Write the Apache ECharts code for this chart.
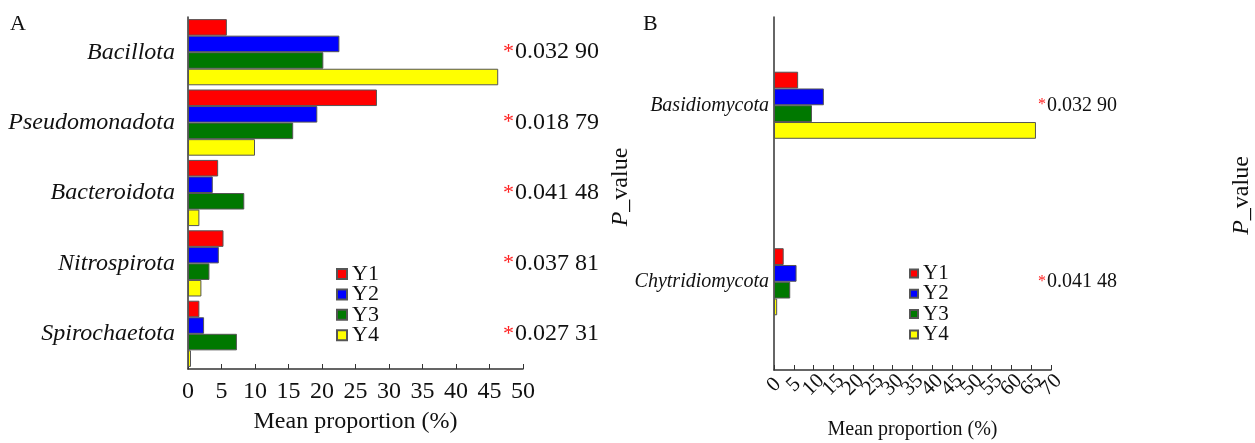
<!DOCTYPE html>
<html>
<head>
<meta charset="utf-8">
<script src="https://cdn.jsdelivr.net/npm/echarts@6/dist/echarts.min.js"></script>
<style>
html,body{margin:0;padding:0;background:#fff}
#chart{width:1255px;height:443px}
</style>
</head>
<body>
<div id="chart"></div>
<script>
// Panel A: bacterial phyla, mean proportion (%) per group
const bacteriaPhyla = ['Bacillota', 'Pseudomonadota', 'Bacteroidota', 'Nitrospirota', 'Spirochaetota'];
const bacteriaY1 = [5.8, 28.2, 4.5, 5.3, 1.7];
const bacteriaY2 = [22.6, 19.3, 3.7, 4.6, 2.4];
const bacteriaY3 = [20.2, 15.7, 8.4, 3.2, 7.3];
const bacteriaY4 = [46.3, 10.0, 1.7, 2.0, 0.45];
const bacteriaP = ['0.032 90', '0.018 79', '0.041 48', '0.037 81', '0.027 31'];

// Panel B: fungal phyla
const fungiPhyla = ['Basidiomycota', 'Chytridiomycota'];
const fungiY1 = [6.1, 2.45];
const fungiY2 = [12.6, 5.7];
const fungiY3 = [9.6, 4.1];
const fungiY4 = [66.2, 0.8];
const fungiP = ['0.032 90', '0.041 48'];
// tick labels of panel B's slanted proportion axis (0–70 by 5)
const fungiTicks = ['0', '5', '10', '15', '20', '25', '30', '35', '40', '45', '50', '55', '60', '65', '70'];

const groups = ['Y1', 'Y2', 'Y3', 'Y4'];
const groupColors = ['#ff0000', '#0000ff', '#007800', '#ffff00'];

const SERIF = '"Liberation Serif", "Times New Roman", serif';
const AXIS_COLOR = '#333';

function makeSeries(values, xi, yi, catGap) {
  return values.map((vals, i) => ({
    name: groups[i],
    type: 'bar',
    xAxisIndex: xi,
    yAxisIndex: yi,
    data: vals,
    barGap: '0%',
    barCategoryGap: catGap,
    itemStyle: { color: groupColors[i], borderColor: '#555', borderWidth: 1 },
    emphasis: { disabled: true }
  }));
}

// right-hand category axis carrying the significance labels and the "P_value" title
function pAxis(gridIndex, cats, offset, nameGap, fontSize, starSize, namePad) {
  return {
    type: 'category',
    gridIndex: gridIndex,
    position: 'right',
    inverse: true,
    offset: offset,
    data: cats,
    axisLine: { show: false },
    axisTick: { show: false },
    splitLine: { show: false },
    axisLabel: {
      margin: 0,
      formatter: v => '{s|*}{v|' + v + '}',
      rich: {
        s: { color: '#ff2020', fontFamily: SERIF, fontSize: starSize, padding: [0, 1, 0, 0] },
        v: { color: '#111', fontFamily: SERIF, fontSize: fontSize }
      }
    },
    name: '{i|P}_value',
    nameLocation: 'middle',
    nameRotate: 90,
    nameGap: nameGap,
    nameTextStyle: {
      color: '#111', fontFamily: SERIF, fontSize: 24, padding: namePad,
      rich: { i: { fontStyle: 'italic', fontFamily: SERIF, fontSize: 24, color: '#111' } }
    }
  };
}

const chart = echarts.init(document.getElementById('chart'), null, { renderer: 'canvas' });

chart.setOption({
  backgroundColor: '#fff',
  animation: false,
  title: [
    { text: 'A', left: 5, top: 8, textStyle: { fontFamily: SERIF, fontSize: 22, fontWeight: 'normal', color: '#111' } },
    { text: 'B', left: 638, top: 8, textStyle: { fontFamily: SERIF, fontSize: 22, fontWeight: 'normal', color: '#111' } }
  ],
  grid: [
    { left: 188, top: 17, width: 335, height: 352, containLabel: false, outerBoundsMode: 'none' },
    { left: 774, top: 17, width: 277, height: 353, containLabel: false, outerBoundsMode: 'none' }
  ],
  legend: [
    {
      data: groups, orient: 'vertical', left: 331, top: 258,
      itemWidth: 10, itemHeight: 10, itemGap: -1.6, icon: 'rect',
      textStyle: { fontFamily: SERIF, fontSize: 22, color: '#111', lineHeight: 20 },
      selectedMode: false
    },
    {
      data: groups, orient: 'vertical', left: 904, top: 258,
      itemWidth: 8, itemHeight: 8, itemGap: -0.7, icon: 'rect',
      textStyle: { fontFamily: SERIF, fontSize: 21, color: '#111', lineHeight: 20 },
      selectedMode: false
    }
  ],
  xAxis: [
    {
      type: 'value', gridIndex: 0, min: 0, max: 50, interval: 5,
      axisLine: { show: true, lineStyle: { color: AXIS_COLOR, width: 1.5 } },
      axisTick: { show: true, inside: true, length: 5, lineStyle: { color: AXIS_COLOR } },
      splitLine: { show: false },
      axisLabel: { color: '#111', fontFamily: SERIF, fontSize: 24, margin: 11, showMaxLabel: true },
      name: 'Mean proportion (%)', nameLocation: 'middle', nameGap: 41,
      nameTextStyle: { color: '#111', fontFamily: SERIF, fontSize: 24 }
    },
    {
      type: 'value', gridIndex: 1, min: 0, max: 70, interval: 5,
      axisLine: { show: true, lineStyle: { color: AXIS_COLOR, width: 1.5 } },
      axisTick: { show: true, inside: true, length: 5, lineStyle: { color: AXIS_COLOR } },
      splitLine: { show: false },
      axisLabel: { show: false },
      name: 'Mean proportion (%)', nameLocation: 'middle', nameGap: 50,
      nameTextStyle: { color: '#111', fontFamily: SERIF, fontSize: 20 }
    },
    {
      // slanted tick labels for panel B, one per tick of the value axis above
      type: 'category', gridIndex: 1, position: 'bottom', boundaryGap: false,
      data: fungiTicks,
      axisLine: { show: false },
      axisTick: { show: false },
      splitLine: { show: false },
      axisLabel: {
        interval: 0, color: '#111', fontFamily: SERIF, fontSize: 21, margin: 15, rotate: 45,
        align: 'center', verticalAlign: 'middle'
      }
    }
  ],
  yAxis: [
    {
      type: 'category', gridIndex: 0, inverse: true, data: bacteriaPhyla,
      axisLine: { show: true, onZero: false, lineStyle: { color: AXIS_COLOR, width: 1.5 } },
      axisTick: { show: false },
      axisLabel: { color: '#111', fontFamily: SERIF, fontStyle: 'italic', fontSize: 24, margin: 13 }
    },
    pAxis(0, bacteriaP, -20, 106, 24, 22, [0, 0, 0, 12]),
    {
      type: 'category', gridIndex: 1, inverse: true, data: fungiPhyla,
      axisLine: { show: true, onZero: false, lineStyle: { color: AXIS_COLOR, width: 1.5 } },
      axisTick: { show: false },
      axisLabel: { color: '#111', fontFamily: SERIF, fontStyle: 'italic', fontSize: 20, margin: 5 }
    },
    pAxis(1, fungiP, -13, 192, 20, 16, [0, 4, 0, 0])
  ],
  series: [
    ...makeSeries([bacteriaY1, bacteriaY2, bacteriaY3, bacteriaY4], 0, 0, '6%'),
    ...makeSeries([fungiY1, fungiY2, fungiY3, fungiY4], 1, 2, '62%')
  ]
});
</script>
</body>
</html>
